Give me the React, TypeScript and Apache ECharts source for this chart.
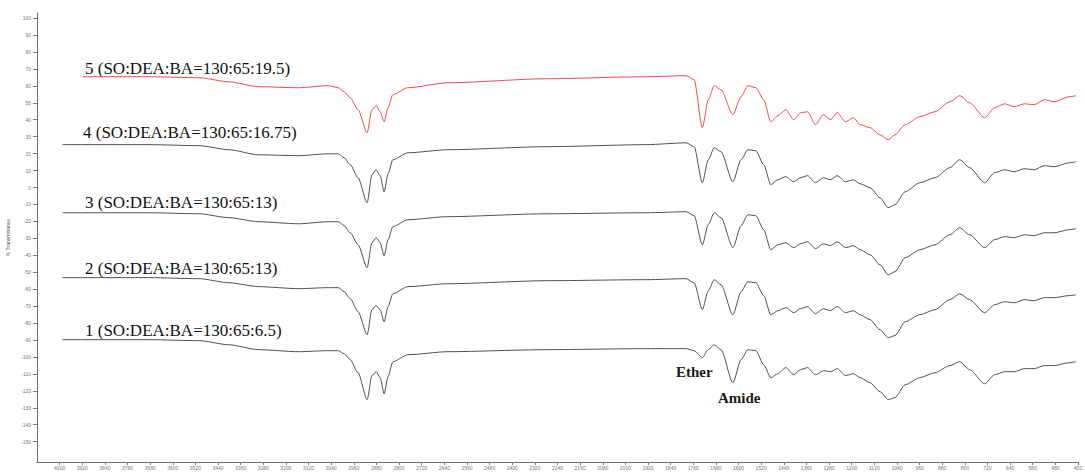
import React, { useEffect, useRef } from "react";
import * as echarts from "echarts";

// wavenumber (cm-1) sample points shared by all spectra
const wavenumbers = [3990, 3918, 3683, 3507, 3402, 3296, 3156, 3050, 3015, 2994, 2973, 2945, 2913, 2896, 2881, 2867, 2853, 2839, 2822, 2769, 2628, 2277, 1925, 1785, 1757, 1728, 1707, 1686, 1662, 1620, 1591, 1567, 1539, 1511, 1486, 1461, 1433, 1405, 1381, 1356, 1328, 1300, 1275, 1251, 1222, 1194, 1170, 1135, 1100, 1071, 1047, 1011, 959, 906, 853, 818, 783, 730, 695, 660, 625, 590, 555, 519, 484, 432, 407];

// stacked % transmittance (offset) values
const spectrum5 = [null, 65.4, 65.4, 64.8, 62.4, 59.5, 58.9, 60.1, 58.9, 56.5, 53.0, 45.9, 32.3, 45.9, 48.3, 44.7, 38.8, 47.1, 54.8, 58.9, 61.8, 64.2, 65.4, 66.0, 63.6, 35.3, 51.8, 60.1, 57.7, 43.0, 53.6, 60.1, 58.9, 51.8, 38.8, 42.4, 45.9, 40.0, 44.1, 44.7, 37.1, 43.0, 40.0, 44.1, 38.8, 41.2, 37.1, 35.3, 31.1, 28.2, 31.1, 37.1, 41.8, 44.7, 50.6, 54.2, 50.0, 41.2, 47.1, 49.4, 47.7, 49.4, 48.9, 51.8, 50.6, 53.6, 54.2];
const spectrum4 = [25.3, 25.3, 25.3, 24.7, 22.3, 19.3, 18.8, 19.9, 19.9, 17.6, 13.5, 5.8, -9.0, 7.5, 10.5, 7.0, -2.5, 8.1, 16.4, 20.5, 22.3, 24.1, 25.3, 26.4, 24.1, 2.8, 16.4, 23.5, 21.1, 3.4, 16.4, 22.3, 21.7, 13.5, 1.7, 4.6, 6.4, 3.4, 5.8, 7.0, 2.8, 5.8, 4.6, 7.0, 3.4, 4.6, 2.2, -0.1, -6.0, -11.9, -10.2, -2.5, 2.8, 5.8, 11.7, 16.4, 11.7, 2.8, 8.7, 10.5, 9.3, 11.1, 10.5, 12.9, 12.3, 14.6, 15.2];
const spectrum3 = [-14.9, -14.9, -14.9, -15.5, -17.8, -20.2, -21.4, -20.2, -20.2, -22.5, -26.7, -33.8, -47.3, -32.6, -29.6, -32.6, -40.2, -30.8, -23.1, -19.0, -17.2, -15.5, -14.9, -14.3, -16.6, -33.8, -21.9, -14.9, -17.8, -35.5, -22.5, -16.1, -16.6, -24.9, -36.7, -33.8, -32.6, -35.5, -33.2, -32.0, -36.1, -33.2, -34.3, -32.0, -35.5, -34.3, -36.7, -39.7, -45.6, -51.5, -49.7, -41.4, -36.7, -33.8, -27.9, -23.7, -27.9, -35.5, -30.8, -29.0, -29.6, -27.9, -28.4, -26.7, -26.7, -24.9, -24.3];
const spectrum2 = [-53.2, -53.2, -53.2, -53.8, -56.2, -58.5, -59.7, -59.1, -59.1, -61.5, -65.6, -73.3, -86.9, -72.1, -69.7, -72.1, -79.2, -70.3, -62.7, -58.5, -56.8, -55.0, -54.4, -53.8, -56.2, -72.1, -60.9, -54.4, -57.4, -75.1, -61.5, -55.6, -56.2, -63.8, -75.1, -72.7, -70.9, -73.9, -71.5, -70.3, -74.5, -71.5, -72.7, -70.3, -73.9, -72.7, -75.1, -78.0, -83.9, -88.6, -87.4, -79.2, -75.1, -72.1, -66.2, -62.7, -66.2, -73.9, -69.2, -67.4, -68.0, -66.2, -66.8, -65.0, -65.0, -63.8, -63.3];
const spectrum1 = [-89.8, -89.8, -89.8, -90.4, -92.8, -95.7, -96.9, -96.3, -96.3, -98.1, -101.6, -109.3, -125.2, -111.0, -108.7, -112.2, -121.7, -111.6, -102.8, -98.7, -96.9, -95.7, -95.1, -95.1, -96.3, -100.4, -95.7, -92.8, -95.7, -115.2, -101.6, -95.7, -96.3, -104.6, -112.2, -109.9, -106.3, -110.5, -107.5, -106.3, -110.5, -108.1, -108.7, -106.9, -111.0, -109.9, -112.2, -115.2, -120.5, -125.2, -124.0, -116.4, -112.2, -109.3, -105.1, -102.8, -107.5, -115.8, -110.5, -108.7, -108.7, -106.9, -106.9, -105.1, -105.1, -103.4, -102.8];

const seriesNames = [
  "1 (SO:DEA:BA=130:65:6.5)",
  "2 (SO:DEA:BA=130:65:13)",
  "3 (SO:DEA:BA=130:65:13)",
  "4 (SO:DEA:BA=130:65:16.75)",
  "5 (SO:DEA:BA=130:65:19.5)",
];

const xTicks = [4000, 3920, 3840, 3760, 3680, 3600, 3520, 3440, 3360, 3280, 3200, 3120, 3040, 2960, 2880, 2800, 2720, 2640, 2560, 2480, 2400, 2320, 2240, 2160, 2080, 2000, 1920, 1840, 1760, 1680, 1600, 1520, 1440, 1360, 1280, 1200, 1120, 1040, 960, 880, 800, 720, 640, 560, 480, 400];
const yTicks = [100, 90, 80, 70, 60, 50, 40, 30, 20, 10, 0, -10, -20, -30, -40, -50, -60, -70, -80, -90, -100, -110, -120, -130, -140, -150];

const annotations = ["Ether", "Amide"];

export default function App() {
  const ref = useRef<HTMLDivElement>(null);
  useEffect(() => {
    const chart = echarts.init(ref.current as HTMLDivElement, null, { renderer: "svg" });
    const pair = (vals: (number | null)[]) => wavenumbers.map((w, i) => [w, vals[i] === null ? "-" : vals[i]]);
    const spectra = [spectrum1, spectrum2, spectrum3, spectrum4, spectrum5];
    const colors = ["#4f4f4f", "#4f4f4f", "#4f4f4f", "#4f4f4f", "#ee4b52"];
    const labelY = [330, 268.5, 202.5, 132.5, 68.5];
    const labelX = [85, 85, 85, 83, 85];
    const serif = '"Liberation Serif", "DejaVu Serif", serif';
    chart.setOption({
      animation: false,
      backgroundColor: "#ffffff",
      grid: { left: 37, right: 7, top: 13, bottom: 13, containLabel: false, outerBoundsMode: "none" },
      xAxis: {
        type: "value",
        inverse: true,
        min: 400,
        max: 4080,
        axisLine: { onZero: false, lineStyle: { color: "#6f6f6f", width: 1 } },
        axisTick: { show: true, length: 3, customValues: xTicks, lineStyle: { color: "#7a7a7a" } },
        axisLabel: {
          customValues: xTicks,
          fontSize: 5,
          color: "#777",
          margin: 3,
          fontFamily: "Arial",
          formatter: (v: number) => String(v),
        },
        splitLine: { show: false },
      },
      yAxis: {
        type: "value",
        min: -162,
        max: 103,
        name: "% Transmittance",
        nameLocation: "middle",
        nameRotate: 90,
        nameGap: 22,
        nameTextStyle: { fontSize: 5, color: "#555" },
        axisLine: { show: true, onZero: false, lineStyle: { color: "#6f6f6f", width: 1 } },
        axisTick: { show: true, length: 4, customValues: yTicks, lineStyle: { color: "#7a7a7a" } },
        axisLabel: { customValues: yTicks, fontSize: 5, color: "#777", margin: 6, fontFamily: "Arial" },
        splitLine: { show: false },
      },
      series: spectra.map((s, i) => ({
        type: "line",
        name: seriesNames[i],
        data: pair(s),
        showSymbol: false,
        symbol: "none",
        smooth: 0.25,
        smoothMonotone: "x",
        connectNulls: false,
        lineStyle: { color: colors[i], width: 1 },
        silent: true,
      })),
      graphic: [
        ...seriesNames.map((n, i) => ({
          type: "text",
          x: labelX[i],
          y: labelY[i],
          silent: true,
          style: { text: n, fill: "#111", fontSize: 17, fontFamily: serif, verticalAlign: "middle" },
        })),
        {
          type: "text",
          x: 676,
          y: 372,
          silent: true,
          style: { text: annotations[0], fill: "#1a1a1a", fontSize: 15, fontWeight: "bold", fontFamily: serif, verticalAlign: "middle" },
        },
        {
          type: "text",
          x: 718,
          y: 398,
          silent: true,
          style: { text: annotations[1], fill: "#1a1a1a", fontSize: 15, fontWeight: "bold", fontFamily: serif, verticalAlign: "middle" },
        },
      ],
    });
    return () => chart.dispose();
  }, []);
  return (
    <div
      ref={ref}
      style={{ position: "absolute", left: 0, top: 0, width: 1085, height: 475, background: "#fff" }}
    />
  );
}
